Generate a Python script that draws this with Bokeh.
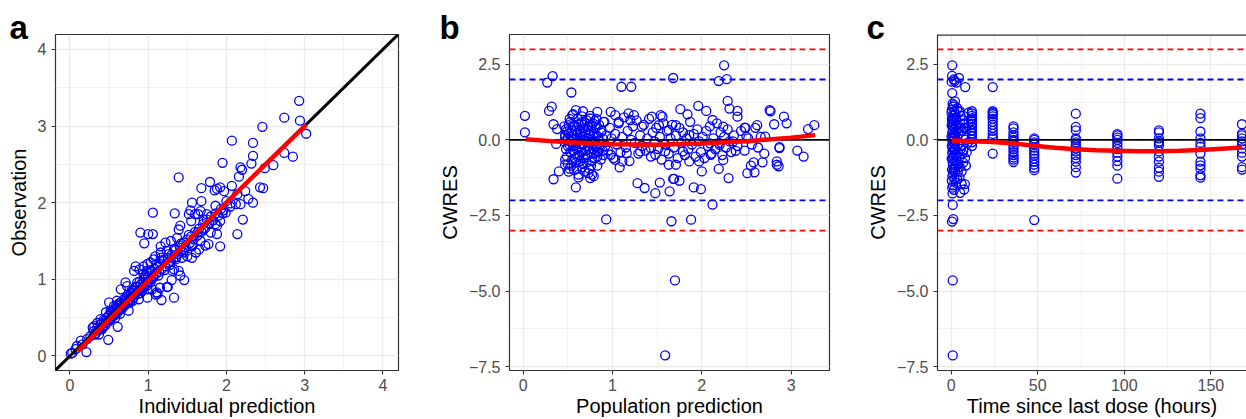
from bokeh.plotting import figure
from bokeh.layouts import row
from bokeh.models import FixedTicker, Span, Slope, CustomJSTickFormatter, Range1d
from bokeh.embed import file_html
from bokeh.resources import INLINE

# ---------------- data ----------------
# Panel a: individual prediction vs observation
a_points = [
    (2.93, 3.33), (2.74, 3.11), (2.94, 3.07), (3.02, 2.90), (2.46, 2.99), (2.07, 2.81), (2.34, 2.78),
    (2.74, 2.65), (2.85, 2.60), (2.34, 2.61), (2.32, 2.51), (1.95, 2.52), (2.60, 2.49), (2.49, 2.45),
    (2.18, 2.46), (2.20, 2.43), (2.16, 2.34), (1.39, 2.33), (1.79, 2.27), (1.88, 2.18), (1.92, 2.20),
    (1.85, 2.16), (1.97, 2.15), (1.68, 2.19), (2.07, 2.22), (2.43, 2.20), (2.47, 2.19), (2.24, 2.15),
    (2.14, 2.11), (2.28, 2.05), (2.34, 2.00), (2.18, 1.98), (2.12, 1.98), (2.05, 1.95), (1.99, 1.87),
    (1.95, 1.86), (2.21, 1.78), (2.14, 1.59), (1.92, 1.43), (1.77, 1.46), (1.88, 1.59), (1.80, 1.61),
    (1.92, 1.76), (1.88, 1.70), (1.86, 1.72), (1.86, 1.96), (1.68, 2.02), (1.56, 2.00), (1.64, 1.85),
    (1.54, 1.90), (1.52, 1.85), (1.60, 1.85), (1.67, 1.89), (1.75, 1.85), (1.71, 1.78), (1.55, 1.76),
    (1.41, 1.70), (1.39, 1.65), (1.34, 1.86), (1.06, 1.87), (0.90, 1.61), (1.00, 1.59), (1.06, 1.59),
    (0.95, 1.47), (1.37, 1.54), (1.29, 1.50), (1.22, 1.48), (1.16, 1.43), (1.24, 1.37), (1.33, 1.39),
    (1.41, 1.41), (1.45, 1.35), (1.50, 1.30), (1.56, 1.28), (1.61, 1.35), (1.65, 1.39), (1.73, 1.44),
    (1.67, 1.50), (1.56, 1.43), (1.63, 1.61), (1.71, 1.65), (1.43, 1.28), (1.35, 1.26), (1.16, 1.28),
    (1.07, 1.26), (1.03, 1.22), (0.99, 1.20), (0.94, 1.17), (0.84, 1.17), (0.82, 1.11), (0.89, 1.13),
    (0.94, 1.07), (0.98, 1.11), (1.09, 1.30), (1.16, 1.35), (1.29, 1.24), (1.33, 1.13), (1.31, 1.11),
    (1.39, 1.11), (1.46, 0.99), (1.33, 0.76), (1.17, 0.73), (1.25, 0.90), (1.15, 0.89), (1.11, 0.83),
    (1.10, 0.80), (1.03, 0.96), (0.94, 1.00), (0.86, 0.96), (0.90, 0.87), (0.80, 0.85), (0.73, 0.91),
    (0.71, 0.96), (0.65, 0.87), (0.99, 0.87), (1.05, 0.87), (0.99, 0.76), (0.88, 0.74), (0.77, 0.70),
    (0.75, 0.59), (0.65, 0.70), (0.60, 0.72), (0.56, 0.65), (0.50, 0.70), (0.52, 0.59), (0.46, 0.57),
    (0.39, 0.48), (0.35, 0.43), (0.31, 0.39), (0.29, 0.37), (0.61, 0.38), (0.49, 0.21), (0.41, 0.35),
    (0.37, 0.28), (0.26, 0.26), (0.22, 0.22), (0.14, 0.20), (0.09, 0.13), (0.07, 0.09), (0.03, 0.04),
    (0.01, 0.03), (0.21, 0.05), (0.16, 0.15), (1.41, 1.05), (1.30, 0.99), (1.24, 0.90), (1.12, 0.81),
    (0.30, 0.32), (0.33, 0.30), (0.35, 0.37), (0.38, 0.35), (0.40, 0.42), (0.42, 0.38), (0.44, 0.45),
    (0.45, 0.40), (0.47, 0.50), (0.48, 0.44), (0.50, 0.47), (0.50, 0.53), (0.52, 0.49), (0.53, 0.56),
    (0.55, 0.52), (0.56, 0.60), (0.57, 0.55), (0.58, 0.50), (0.60, 0.63), (0.60, 0.57), (0.62, 0.60),
    (0.63, 0.66), (0.64, 0.55), (0.65, 0.62), (0.66, 0.68), (0.68, 0.64), (0.70, 0.72), (0.70, 0.66),
    (0.72, 0.75), (0.73, 0.69), (0.75, 0.78), (0.75, 0.70), (0.77, 0.74), (0.78, 0.82), (0.80, 0.78),
    (0.80, 0.72), (0.82, 0.86), (0.83, 0.80), (0.85, 0.83), (0.86, 0.90), (0.88, 0.85), (0.90, 0.93),
    (0.90, 0.82), (0.92, 0.88), (0.94, 0.97), (0.95, 0.90), (0.97, 1.02), (0.98, 0.94), (1.00, 1.04),
    (1.00, 0.97), (1.02, 1.08), (1.04, 1.00), (1.05, 1.10), (1.07, 1.04), (1.08, 1.14), (1.10, 1.07),
    (1.12, 1.16), (1.14, 1.10), (1.15, 1.20), (1.17, 1.13), (1.20, 1.24), (1.22, 1.17), (1.25, 1.28),
    (1.27, 1.22), (1.30, 1.32), (1.32, 1.27), (1.35, 1.38), (1.38, 1.33), (1.40, 1.44), (1.43, 1.37),
    (1.45, 1.48), (1.48, 1.42), (1.50, 1.52), (1.53, 1.47), (1.55, 1.56), (1.58, 1.52), (1.60, 1.62),
    (1.63, 1.57), (1.65, 1.66), (1.68, 1.62), (1.70, 1.72), (1.73, 1.67), (1.75, 1.78), (1.78, 1.73),
    (1.80, 1.82), (1.83, 1.77), (1.86, 1.86), (1.90, 1.83), (1.93, 1.92), (1.96, 1.90), (2.00, 2.02),
    (2.05, 1.99), (0.32, 0.28), (0.36, 0.33), (0.39, 0.41), (0.41, 0.36), (0.43, 0.47), (0.46, 0.43),
    (0.49, 0.52), (0.51, 0.46), (0.54, 0.58), (0.57, 0.53), (0.59, 0.66), (0.61, 0.57), (0.63, 0.69),
    (0.66, 0.61), (0.69, 0.74), (0.71, 0.67), (0.74, 0.80), (0.76, 0.72), (0.79, 0.86), (0.81, 0.76),
    (0.84, 0.90), (0.87, 0.81), (0.89, 0.97), (0.92, 0.85), (0.96, 1.04), (0.99, 0.92), (1.03, 1.12),
    (1.06, 1.02), (1.11, 1.20), (1.13, 1.05), (1.18, 1.25), (1.21, 1.12), (1.26, 1.33), (1.28, 1.19),
    (1.34, 1.40), (1.36, 1.29), (1.42, 1.47), (1.46, 1.38), (1.52, 1.58), (1.57, 1.45),
]
ipred = [p[0] for p in a_points]
obs = [p[1] for p in a_points]
smooth_a_x = [0.10, 0.50, 1.00, 1.50, 2.00, 2.50, 3.02]
smooth_a_y = [0.06, 0.47, 0.98, 1.49, 2.00, 2.50, 3.02]

# Panel b: population prediction vs CWRES
b_points = [
    (0.02, 0.80), (0.02, 0.25), (0.27, 1.90), (0.33, 2.11), (0.29, 0.96), (0.32, 1.10), (0.34, 0.52),
    (0.38, 0.36), (0.37, -0.13), (0.34, -1.30), (0.40, -1.04), (0.54, 1.57), (0.59, 0.99), (0.55, 0.82),
    (0.51, 0.49), (0.47, 0.16), (0.59, -1.57), (0.62, -1.24), (0.47, -0.82), (0.75, -1.26), (0.77, -1.15),
    (0.93, -2.63), (1.10, 1.76), (1.21, 1.76), (0.83, 0.93), (0.98, 0.93), (1.03, 0.82), (1.18, 0.88),
    (1.24, 0.82), (1.20, 0.66), (1.07, 0.60), (0.90, 0.60), (0.75, 0.71), (0.66, 0.60), (0.83, -0.38),
    (0.98, -0.49), (1.03, -0.66), (1.11, -0.71), (1.08, -0.91), (1.16, -0.44), (1.28, -1.43), (1.36, -1.59),
    (1.44, 0.77), (1.54, 0.82), (1.56, 0.77), (1.48, -1.76), (1.53, -1.41), (1.64, -1.70), (1.69, -1.29),
    (1.66, -2.69), (1.68, 2.05), (1.31, -0.38), (1.43, -0.27), (1.48, -0.49), (1.59, -0.38), (1.63, -0.82),
    (1.33, 0.44), (1.52, 0.49), (1.63, 0.33),
    (2.25, 2.47), (2.19, 1.95), (2.28, 2.01), (2.29, 1.29), (2.31, 1.04), (2.40, 0.96), (2.40, 0.77),
    (1.96, 1.13), (1.76, 1.02), (2.05, 0.96), (1.84, 0.85), (2.76, 0.99), (2.92, 0.77), (2.95, 0.55),
    (2.81, 0.52), (2.62, 0.49), (2.48, 0.41), (3.19, 0.36), (3.26, 0.49), (2.71, 0.11), (2.50, 0.11),
    (3.07, -0.35), (3.14, -0.55), (2.87, -0.24), (2.84, -0.71), (2.84, -0.82), (2.68, -0.74), (2.58, -0.74),
    (2.55, -0.85), (2.51, -1.10), (2.59, -1.07), (2.38, -0.36), (2.30, -1.26), (2.19, -0.96), (2.00, -1.04),
    (1.91, -1.57), (1.99, -1.63), (1.71, -0.82), (1.68, -1.29), (1.75, -1.35), (2.12, -2.14), (1.88, -2.64),
    (2.10, -0.49), (2.24, -0.66), (1.86, -0.71), (1.97, -0.71), (1.79, -0.38), (2.09, -0.11), (2.20, -0.16),
    (2.35, -0.05), (1.86, 0.16), (1.71, 0.49), (2.12, 0.66), (2.24, 0.44), (1.70, -4.65), (1.59, -7.13),
    (2.77, 0.95), (2.49, 0.40), (2.86, -0.87), (2.87, -0.27),
    (0.46, -0.05), (0.47, 0.12), (0.48, -0.30), (0.48, 0.35), (0.49, -0.55), (0.50, 0.05), (0.50, -0.80),
    (0.51, 0.22), (0.52, -0.15), (0.52, -0.95), (0.53, 0.60), (0.53, -0.40), (0.54, 0.10), (0.55, -0.65),
    (0.55, 0.30), (0.56, -0.20), (0.56, 0.85), (0.57, -1.00), (0.57, 0.02), (0.58, -0.45), (0.58, 0.45),
    (0.59, -0.10), (0.59, -0.75), (0.60, 0.18), (0.60, -0.30), (0.61, 0.70), (0.61, -0.55), (0.62, -0.05),
    (0.62, -1.15), (0.63, 0.35), (0.63, -0.25), (0.64, -0.70), (0.64, 0.08), (0.65, 0.55), (0.65, -0.40),
    (0.66, -0.90), (0.66, 0.20), (0.67, -0.15), (0.67, 0.95), (0.68, -0.60), (0.68, 0.40), (0.69, -0.02),
    (0.69, -1.05), (0.70, 0.25), (0.70, -0.35), (0.71, -0.75), (0.71, 0.65), (0.72, 0.05), (0.72, -0.50),
    (0.73, -0.20), (0.73, 0.45), (0.74, -0.95), (0.74, 0.15), (0.75, -0.10), (0.75, 0.80), (0.76, -0.45),
    (0.76, 0.30), (0.77, -0.70), (0.77, 0.02), (0.78, 0.55), (0.78, -0.30), (0.79, -1.20), (0.79, 0.20),
    (0.80, -0.05), (0.80, -0.60), (0.81, 0.40), (0.82, -0.25), (0.82, 0.70), (0.83, -0.85), (0.84, 0.10),
    (0.84, -0.40), (0.85, 0.50), (0.86, -0.15), (0.87, -0.65), (0.88, 0.30), (0.89, 0.05), (0.90, -0.50),
    (0.91, 0.60), (0.92, -0.20), (0.93, 0.15),
    (0.46, 0.45), (0.47, -0.65), (0.49, 0.28), (0.50, -0.20), (0.51, -1.05), (0.52, 0.70), (0.53, -0.05),
    (0.54, -0.85), (0.55, 0.15), (0.56, -0.35), (0.57, 0.50), (0.58, -0.60), (0.59, 0.32), (0.60, -0.95),
    (0.61, 0.02), (0.62, 0.52), (0.63, -0.50), (0.64, 0.28), (0.65, -0.15), (0.66, 0.78), (0.67, -0.80),
    (0.68, 0.10), (0.69, 0.58), (0.70, -0.58), (0.71, -0.08), (0.72, 0.35), (0.73, -1.10), (0.74, -0.30),
    (0.75, 0.22), (0.76, -0.85), (0.77, 0.48), (0.78, -0.05), (0.79, -0.45), (0.80, 0.62), (0.81, -0.20),
    (0.82, 0.15), (0.83, -0.55), (0.85, -0.02), (0.87, 0.25), (0.89, -0.35),
    (0.95, -0.35), (0.97, 0.40), (0.99, 0.05), (1.01, -0.60), (1.03, 0.20), (1.05, -0.15), (1.07, 0.55),
    (1.09, -0.40), (1.11, 0.10), (1.13, 0.75), (1.15, -0.25), (1.17, 0.30), (1.19, -0.70), (1.21, 0.00),
    (1.23, 0.45), (1.25, -0.10), (1.27, 0.65), (1.29, -0.45), (1.31, 0.15), (1.33, -0.20), (1.35, 0.50),
    (1.37, -0.35), (1.39, 0.05), (1.41, 0.70), (1.43, -0.55), (1.45, 0.25), (1.47, -0.05), (1.49, 0.40),
    (1.51, -0.30), (1.53, 0.10), (1.55, -0.65), (1.57, 0.55), (1.59, -0.15), (1.61, 0.30), (1.63, -0.45),
    (1.65, 0.05), (1.67, 0.50), (1.69, -0.25), (1.71, 0.15), (1.73, -0.60), (1.75, 0.40), (1.77, -0.10),
    (1.79, 0.25), (1.81, -0.50), (1.83, 0.05), (1.85, -0.30), (1.87, 0.60), (1.89, -0.15), (1.91, 0.20),
    (1.93, -0.55), (1.95, 0.35), (1.97, -0.05), (1.99, -0.40), (2.01, 0.10), (2.03, -0.60), (2.05, 0.30),
    (2.07, -0.20), (2.09, 0.45), (2.11, -0.45), (2.13, 0.05), (2.15, -0.30), (2.17, 0.55), (2.19, -0.10),
    (2.21, 0.25), (2.23, -0.50), (2.25, 0.10), (2.27, -0.25), (2.29, 0.35), (2.31, -0.05), (2.33, -0.40),
    (2.36, 0.15), (2.40, -0.20), (2.44, 0.30), (2.48, -0.35), (2.52, 0.05), (2.56, -0.15), (2.60, 0.40),
    (2.63, -0.25), (2.66, 0.10), (2.70, -0.45),
]
pred = [p[0] for p in b_points]
cwres_b = [p[1] for p in b_points]
smooth_b_x = [0.03, 0.50, 1.00, 1.50, 2.00, 2.50, 3.00, 3.27]
smooth_b_y = [0.02, -0.08, -0.14, -0.155, -0.12, -0.044, 0.077, 0.16]

# Panel c: time since last dose vs CWRES
c_early = [
    (0.6, 2.47), (0.5, 2.12), (0.3, 1.93), (1.5, 2.00), (2.0, 1.95), (3.0, 1.90), (4.5, 2.05), (8.1, 1.75),
    (0.6, 1.55), (2.2, 1.28), (1.0, 1.10), (0.4, 1.00), (1.8, 0.95), (0.2, 0.90), (2.5, 0.85), (1.2, 0.80),
    (0.8, 0.72), (3.0, 0.70), (0.5, 0.62), (1.5, 0.55), (0.3, 0.48), (2.0, 0.40), (4.0, 0.50), (1.0, 0.35),
    (0.6, 0.25), (2.5, 0.20), (0.2, 0.12), (1.2, 0.05), (3.5, 0.10), (0.8, -0.05), (1.8, -0.12), (0.4, -0.20),
    (2.2, -0.28), (1.0, -0.35), (0.6, -0.42), (3.0, -0.48), (1.5, -0.55), (0.3, -0.62), (2.0, -0.70),
    (0.9, -0.78), (4.0, -0.82), (1.4, -0.90), (0.5, -0.98), (2.4, -1.05), (1.1, -1.12), (0.7, -1.20),
    (1.9, -1.28), (0.4, -1.35), (2.8, -1.42), (1.0, -1.50), (0.6, -1.58), (1.6, -1.65), (0.8, -1.77),
    (7.9, -1.46), (5.2, -1.75), (7.5, -1.64), (0.9, -2.15), (0.5, -2.70), (1.2, -2.62), (0.9, -4.65),
    (0.9, -7.13), (3.5, 1.05), (4.5, 0.92), (5.5, 0.80), (6.5, 0.65), (7.5, 0.55), (5.0, 0.40), (6.0, 0.30),
    (7.0, 0.15), (8.0, 0.00), (4.0, -0.15), (5.5, -0.30), (6.5, -0.45), (4.5, -0.60), (7.0, -0.75),
    (5.0, -0.90), (6.0, -1.05), (8.0, -0.60), (8.5, -0.85), (3.5, -1.30), (6.0, -1.45), (7.0, -0.35),
    (9.0, 0.35), (10.0, 0.55), (9.5, -0.10), (1.3, 0.15), (0.7, -0.25), (1.7, 0.65), (2.6, -0.85),
    (0.5, 0.05), (1.0, 0.45), (1.5, -0.30), (2.0, 0.85), (2.5, -0.50), (3.0, 0.30), (0.8, 1.20),
    (1.3, -1.00), (1.8, 0.20), (2.3, -0.15), (0.4, 0.70), (2.8, 0.50), (3.2, -0.70), (4.2, 0.20),
    (5.0, 0.95), (6.0, -0.20), (7.0, 0.80), (8.0, 0.40), (9.0, -0.40), (10.0, 0.90), (3.8, -1.05),
    (4.8, -1.25), (1.6, 1.15), (0.9, -0.60), (2.1, -0.95),
    (12, 0.95), (12, 0.88), (12, 0.80), (12, 0.72), (12, 0.62), (12, 0.52), (12, 0.42), (12, 0.32),
    (12, 0.22), (12, 0.12), (12, 0.02), (12, -0.08), (12, -0.20), (11.5, 0.68), (11.5, 0.30),
]
c_columns = {
    24: [1.75, 0.95, 0.90, 0.85, 0.78, 0.70, 0.60, 0.50, 0.40, 0.30, 0.20, 0.10, 0.05, -0.45],
    36: [0.45, 0.38, 0.25, 0.15, 0.08, 0.00, -0.06, -0.15, -0.22, -0.30, -0.40, -0.50, -0.58, -0.65, -0.73],
    48: [0.05, 0.00, -0.08, -0.15, -0.25, -0.35, -0.45, -0.52, -0.62, -0.72, -0.82, -0.92, -1.00, -2.65],
    72: [0.87, 0.43, 0.32, 0.05, 0.00, -0.08, -0.18, -0.28, -0.38, -0.50, -0.60, -0.72, -0.90, -1.08],
    96: [0.19, 0.15, 0.08, 0.00, -0.10, -0.20, -0.30, -0.42, -0.55, -0.70, -0.85, -1.28],
    120: [0.32, 0.25, 0.05, -0.05, -0.10, -0.18, -0.38, -0.55, -0.72, -0.92, -1.05, -1.22],
    144: [0.87, 0.72, 0.28, 0.05, -0.10, -0.22, -0.45, -0.72, -0.84, -0.95, -1.17, -1.25],
    168: [0.52, 0.21, 0.15, 0.05, -0.05, -0.15, -0.28, -0.42, -0.55, -0.90, -0.98],
}
tad = [p[0] for p in c_early] + [t for t, vals in c_columns.items() for _ in vals]
cwres_c = [p[1] for p in c_early] + [v for t, vals in c_columns.items() for v in vals]
smooth_c_x = [0.5, 12, 24, 36, 48, 60, 72, 84, 96, 108, 120, 132, 144, 156, 168]
smooth_c_y = [-0.02, -0.04, -0.07, -0.12, -0.19, -0.26, -0.31, -0.34, -0.36, -0.37, -0.37, -0.36, -0.33, -0.29, -0.25]

a_ticks = [0, 1, 2, 3, 4]
a_minor = [0.5, 1.5, 2.5, 3.5]
b_xticks = [0, 1, 2, 3]
b_xminor = [0.5, 1.5, 2.5]
cw_ticks = [-7.5, -5.0, -2.5, 0.0, 2.5]
cw_minor = [-6.25, -3.75, -1.25, 1.25]
c_xticks = [0, 50, 100, 150]
c_xminor = [25, 75, 125]
ref_lines = [(3, "#FF0000"), (-3, "#FF0000"), (2, "#0000FF"), (-2, "#0000FF")]
panel_letters = ["a", "b", "c"]

FONT = "Liberation Sans"
BORDER = "#333333"
H = 419


def make_fig(width, xr, yr, bl, br, xt, xm, yt, ym, xlab, ylab, letter, letter_offset, outline=True):
    p = figure(width=width, height=H, x_range=Range1d(*xr), y_range=Range1d(*yr),
               output_backend="svg", toolbar_location=None,
               min_border_left=bl, min_border_right=br, min_border_top=34, min_border_bottom=48)
    p.background_fill_color = "white"
    p.border_fill_color = "white"
    p.outline_line_color = BORDER if outline else None
    p.outline_line_width = 1.2
    # panel letter as title
    p.title.text = letter
    p.title.text_font = FONT
    p.title.text_font_size = "33px"
    p.title.text_font_style = "bold"
    p.title.text_color = "black"
    p.title.align = "left"
    p.title.vertical_align = "bottom"
    p.title.offset = letter_offset
    p.title.standoff = -23
    p.title.text_line_height = 1.0
    p.xaxis.ticker = FixedTicker(ticks=xt, minor_ticks=xm)
    p.yaxis.ticker = FixedTicker(ticks=yt, minor_ticks=ym)
    p.xaxis.axis_label = xlab
    p.yaxis.axis_label = ylab
    for ax in (p.xaxis[0], p.yaxis[0]):
        ax.axis_line_color = None if outline else BORDER
        ax.axis_line_width = 1.2
        ax.major_tick_line_color = BORDER
        ax.major_tick_line_width = 1.1
        ax.major_tick_out = 4
        ax.major_tick_in = 0
        ax.minor_tick_line_color = None
        ax.major_label_text_font = FONT
        ax.major_label_text_font_size = "16px"
        ax.major_label_text_color = "#4D4D4D"
        ax.axis_label_text_font = FONT
        ax.axis_label_text_font_size = "20px"
        ax.axis_label_text_font_style = "normal"
        ax.axis_label_text_color = "black"
    p.xaxis.major_label_standoff = 4
    p.xaxis.axis_label_standoff = 1
    p.yaxis.major_label_standoff = 5
    p.yaxis.axis_label_standoff = 5
    for g in (p.xgrid[0], p.ygrid[0]):
        g.grid_line_color = "#EBEBEB"
        g.grid_line_width = 1.4
        g.minor_grid_line_color = "#EBEBEB"
        g.minor_grid_line_width = 0.7
    return p


def points(p, x, y):
    p.scatter(x, y, marker="circle", size=9, fill_color=None, line_color="#0000FF", line_width=1.3)


# ---- panel a ----
pa = make_fig(435, (-0.185, 4.2), (-0.19, 4.195), 55, 37, a_ticks, a_minor, a_ticks, a_minor,
              "Individual prediction", "Observation", panel_letters[0], -46)
points(pa, ipred, obs)
pa.add_layout(Slope(gradient=1, y_intercept=0, line_color="black", line_width=3))
pa.line(smooth_a_x, smooth_a_y, line_color="#FF0000", line_width=4.5, level="overlay")

cw_fmt = CustomJSTickFormatter(code="return tick.toFixed(1).replace('-', '\u2212');")

# ---- panel b ----
pb = make_fig(427, (-0.153, 3.43), (-7.63, 3.49), 74, 33, b_xticks, b_xminor, cw_ticks, cw_minor,
              "Population prediction", "CWRES", panel_letters[1], -70)
pb.yaxis.formatter = cw_fmt
points(pb, pred, cwres_b)
for loc, col in ref_lines:
    pb.add_layout(Span(location=loc, dimension="width", line_color=col, line_width=1.8, line_dash="6 4"))
pb.add_layout(Span(location=0, dimension="width", line_color="black", line_width=1.8))
pb.line(smooth_b_x, smooth_b_y, line_color="#FF0000", line_width=4.5, level="overlay")

# ---- panel c ----
pc = make_fig(384, (-7.9, 170.6), (-7.63, 3.49), 75, 0, c_xticks, c_xminor, cw_ticks, cw_minor,
              "Time since last dose (hours)", "CWRES", panel_letters[2], -71, outline=False)
pc.yaxis.formatter = cw_fmt
points(pc, tad, cwres_c)
for loc, col in ref_lines:
    pc.add_layout(Span(location=loc, dimension="width", line_color=col, line_width=1.8, line_dash="6 4"))
pc.add_layout(Span(location=0, dimension="width", line_color="black", line_width=1.8))
pc.add_layout(Span(location=3.49, dimension="width", line_color=BORDER, line_width=2.4))
pc.line(smooth_c_x, smooth_c_y, line_color="#FF0000", line_width=4.5, level="overlay")

layout = row(pa, pb, pc)
open("out.html", "w").write(file_html(layout, INLINE))
